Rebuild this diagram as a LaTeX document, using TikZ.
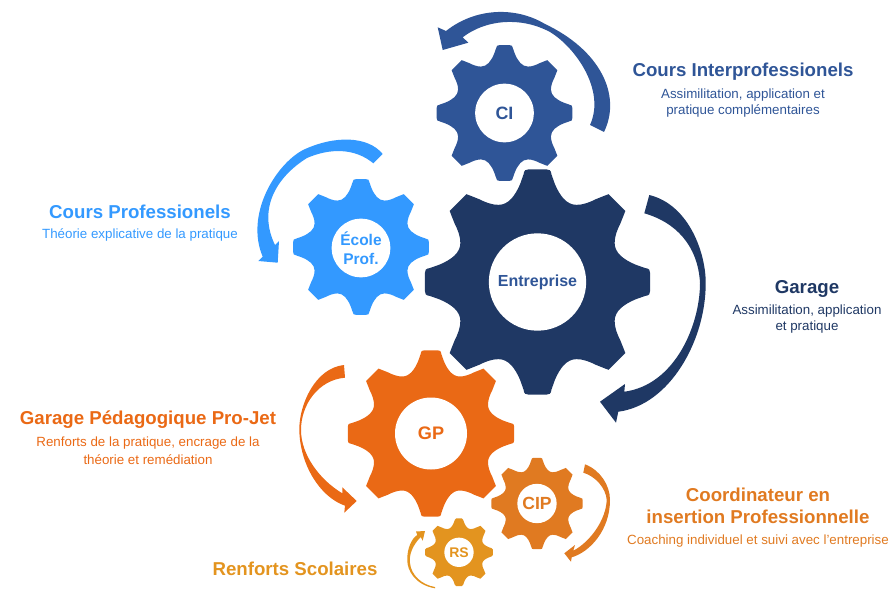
\documentclass[tikz,border=0pt]{standalone}
\usepackage{fontspec}
\setmainfont{Liberation Sans}
\usepackage{xcolor}
\usetikzlibrary{positioning}

\definecolor{cicol}{HTML}{2F5597}
\definecolor{navycol}{HTML}{1F3864}
\definecolor{ecolecol}{HTML}{3399FF}
\definecolor{gpcol}{HTML}{EA6915}
\definecolor{cipcol}{HTML}{E07A21}
\definecolor{rscol}{HTML}{E3941F}

% gear: colour, centre, outer radius
\newcommand{\gearfill}[3]{
  \fill[#1, shift={(#2)}, scale=#3] (-26.8:.765)
    \foreach \a/\d in {0/45,90/135,180/225,270/315} {
      .. controls ({\a-20.6}:.729) and ({\a-14.4}:.79) .. ({\a-10}:.882)
      -- ({\a-7.4}:.96)
      .. controls ({\a-6.8}:1) and ({\a-6}:1) .. ({\a-4.5}:1)
      -- ({\a+4.5}:1)
      .. controls ({\a+6}:1) and ({\a+6.8}:1) .. ({\a+7.4}:.96)
      -- ({\a+10}:.882)
      .. controls ({\a+14.4}:.79) and ({\a+20.6}:.729) .. ({\a+26.8}:.765)
      .. controls ({\a+30.6}:.792) and ({\a+33.2}:.843) .. ({\d-9.7}:.90)
      -- ({\d-6.7}:.98) -- ({\d-6}:1) -- ({\d+6}:1) -- ({\d+6.7}:.98)
      -- ({\d+9.7}:.90)
      .. controls ({\d+11.8}:.843) and ({\d+14.4}:.792) .. ({\d+18.2}:.765)
    } -- cycle;
}

\begin{document}
\begin{tikzpicture}[
    x=0.75pt, y=-0.75pt,
    node distance=1pt,
    every node/.style={align=center},
    hole/.style={circle, fill=white, inner sep=0pt, font=\bfseries},
    title/.style={font=\fontsize{14}{16.5}\selectfont\bfseries},
    sub/.style={font=\fontsize{10}{12}\selectfont}
]
\useasboundingbox (0,0) rectangle (890,589);

% Arrows
\fill[cicol] (604,132) .. controls (622,95) and (600,50) .. (545,24)
  .. controls (515,6) and (475,8) .. (446,31)
  -- (437.7,27.3) -- (442.7,50) -- (468.3,42.7) -- (462.7,37.3)
  .. controls (485,20) and (520,16) .. (550,32)
  .. controls (575,47) and (606,90) .. (590,125) -- cycle;
\fill[ecolecol] (382.7,154) .. controls (368,136) and (335,135) .. (303,150)
  .. controls (275,165) and (245,215) .. (262.7,256.7)
  -- (258.3,261) -- (277.7,262.7) -- (279,241) -- (275,245)
  .. controls (258,210) and (275,178) .. (307,158)
  .. controls (330,148) and (355,148) .. (373.3,163.3) -- cycle;
\fill[navycol] (649.3,195) .. controls (690,205) and (706,255) .. (705.7,283)
  .. controls (706,340) and (670,405) .. (618.3,411.7)
  -- (616,422.7) -- (600,401.7) -- (625,384) -- (624.3,391.7)
  .. controls (675,385) and (700,325) .. (700,283)
  .. controls (698,245) and (675,222) .. (644.3,213.3) -- cycle;
\fill[gpcol] (344,365) .. controls (315,368) and (299,405) .. (299.3,430)
  .. controls (300,465) and (320,497) .. (345,505.7)
  -- (344.3,512.7) -- (356.7,501) -- (342.3,487.3) -- (342.3,493.3)
  .. controls (320,480) and (301,455) .. (301,430)
  .. controls (301,405) and (318,380) .. (345,377.7) -- cycle;
\fill[cipcol] (585,464.3) .. controls (600,470) and (610,485) .. (610,500)
  .. controls (610,530) and (590,552) .. (571.7,557.3)
  -- (571,561.7) -- (564.3,553.3) -- (575,545) -- (573.3,550.7)
  .. controls (590,542) and (606,520) .. (606.7,500)
  .. controls (606,488) and (595,476) .. (583.3,472.7) -- cycle;
\fill[rscol] (435,588.3) .. controls (415,585) and (407,570) .. (407.3,560)
  .. controls (407,548) and (412,538) .. (417.3,535)
  -- (416,531.5) -- (425,531) -- (422.7,540.7) -- (420.7,537)
  .. controls (412,546) and (409,555) .. (410,563)
  .. controls (411,575) and (422,585) .. (435,587) -- cycle;

% Gears
\gearfill{cicol}{504.5,113}{68}
\gearfill{ecolecol}{361,247}{68}
\gearfill{navycol}{537.5,282}{113}
\gearfill{gpcol}{431,433.5}{83.5}
\gearfill{cipcol}{537,503.5}{45.7}
\gearfill{rscol}{459,552.3}{34}

% Gear labels
\node[hole, text=cicol, minimum size=44pt] (ci) at (504.5,113) {\fontsize{13.4}{15}\selectfont CI};
\node[hole, text=ecolecol, minimum size=44pt] (ecole) at (361,248) {\fontsize{11.6}{15}\selectfont École\\[2.5pt]\fontsize{11.6}{15}\selectfont Prof.};
\node[hole, text=cicol, minimum size=73pt] (entreprise) at (537.5,282) {\fontsize{12}{15}\selectfont Entreprise};
\node[hole, text=gpcol, minimum size=54pt] (gp) at (431,433.5) {\fontsize{13.6}{15}\selectfont GP};
\node[hole, text=cipcol, minimum size=29.5pt] (cip) at (537,503.5) {\fontsize{13.2}{15}\selectfont CIP};
\node[hole, text=rscol, minimum size=22pt] (rs) at (459,552.3) {\fontsize{10.5}{15}\selectfont RS};

% Texts
\node[title, text=cicol] (citxt) at (743,72) {Cours Interprofessionels};
\node[sub, text=cicol, below=-1.2pt of citxt] (cisub) {Assimilitation, application et\\pratique complémentaires};
\node[title, text=ecolecol] (ecoletxt) at (140,212) {Cours Professionels};
\node[sub, text=ecolecol, below=.25pt of ecoletxt] (ecolesub) {Théorie explicative de la pratique};
\node[title, text=navycol] (garagetxt) at (807,289) {Garage};
\node[sub, text=navycol, below=-1.25pt of garagetxt] (garagesub) {Assimilitation, application\\et pratique};
\node[title, text=gpcol] (gptxt) at (148,420) {Garage Pédagogique Pro-Jet};
\node[sub, text=gpcol, below=-1.25pt of gptxt, font=\fontsize{10}{13.5}\selectfont] (gpsub) {Renforts de la pratique, encrage de la\\théorie et remédiation};
\node[title, text=cipcol] (ciptxt) at (758,506) {Coordinateur en\\insertion Professionnelle};
\node[sub, text=cipcol, below=of ciptxt] (cipsub) {Coaching individuel et suivi avec l’entreprise};
\node[title, text=rscol] (rstxt) at (295,569) {Renforts Scolaires};

\end{tikzpicture}
\end{document}
